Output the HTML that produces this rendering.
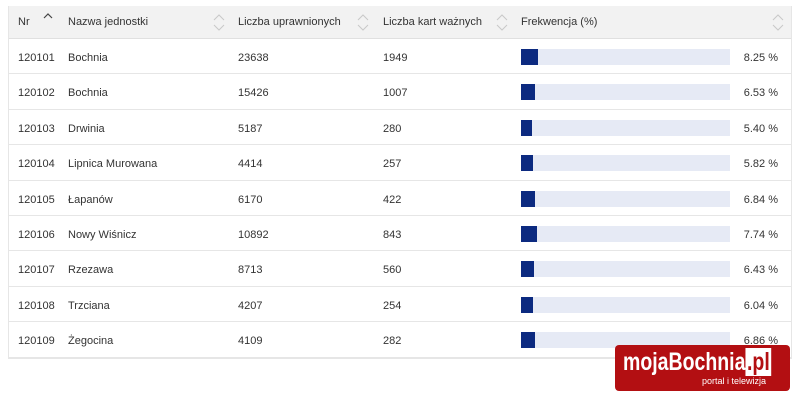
<!DOCTYPE html><html><head><style>
body{margin:0;width:800px;height:401px;background:#fff;font-family:"Liberation Sans",sans-serif;font-size:11px;color:#333;position:relative;overflow:hidden}
.t{position:absolute;left:8px;top:6px;width:782px;border:1px solid #e6e6e6;border-top:none}
.h{height:32px;background:#f2f2f2;position:relative;border-bottom:1px solid #e0e0e0}
.h .c{top:10px}
.r{height:35.4px;position:relative;border-bottom:1px solid #e6e6e6;box-sizing:border-box}
.c{position:absolute;top:13px;line-height:13px;white-space:nowrap}
.s{position:absolute;top:8px}
.bar{position:absolute;left:512px;top:10px;width:209px;height:16px;background:#e6eaf5}
.bar i{display:block;height:16px;background:#0c2a80}
.p{right:13px}
.logo{position:absolute;left:615px;top:345px;width:175px;height:46px;background:#b30f12;border-radius:4px;color:#fff;overflow:hidden}
</style></head><body>
<div class="t">
<div class="h">
<span class="c" style="left:9px">Nr</span>
<svg class="s" style="left:34px;top:7px" width="10" height="6"><polyline points="1,5 5,1 9,5" fill="none" stroke="#444" stroke-width="1.2"/></svg>
<span class="c" style="left:59px">Nazwa jednostki</span>
<svg class="s" style="left:204px" width="12" height="17"><polyline points="1,6 6,1 11,6" fill="none" stroke="#c8c8c8"/><polyline points="1,11 6,16 11,11" fill="none" stroke="#c8c8c8"/></svg>
<span class="c" style="left:229px">Liczba uprawnionych</span>
<svg class="s" style="left:348px" width="12" height="17"><polyline points="1,6 6,1 11,6" fill="none" stroke="#c8c8c8"/><polyline points="1,11 6,16 11,11" fill="none" stroke="#c8c8c8"/></svg>
<span class="c" style="left:374px">Liczba kart ważnych</span>
<svg class="s" style="left:487px" width="12" height="17"><polyline points="1,6 6,1 11,6" fill="none" stroke="#c8c8c8"/><polyline points="1,11 6,16 11,11" fill="none" stroke="#c8c8c8"/></svg>
<span class="c" style="left:512px">Frekwencja (%)</span>
<svg class="s" style="left:763px" width="12" height="17"><polyline points="1,6 6,1 11,6" fill="none" stroke="#c8c8c8"/><polyline points="1,11 6,16 11,11" fill="none" stroke="#c8c8c8"/></svg>
</div>
<div class="r"><span class="c" style="left:9px">120101</span><span class="c" style="left:59px">Bochnia</span><span class="c" style="left:229px">23638</span><span class="c" style="left:374px">1949</span><div class="bar"><i style="width:17px"></i></div><span class="c p">8.25 %</span></div>
<div class="r"><span class="c" style="left:9px">120102</span><span class="c" style="left:59px">Bochnia</span><span class="c" style="left:229px">15426</span><span class="c" style="left:374px">1007</span><div class="bar"><i style="width:14px"></i></div><span class="c p">6.53 %</span></div>
<div class="r"><span class="c" style="left:9px">120103</span><span class="c" style="left:59px">Drwinia</span><span class="c" style="left:229px">5187</span><span class="c" style="left:374px">280</span><div class="bar"><i style="width:11px"></i></div><span class="c p">5.40 %</span></div>
<div class="r"><span class="c" style="left:9px">120104</span><span class="c" style="left:59px">Lipnica Murowana</span><span class="c" style="left:229px">4414</span><span class="c" style="left:374px">257</span><div class="bar"><i style="width:12px"></i></div><span class="c p">5.82 %</span></div>
<div class="r"><span class="c" style="left:9px">120105</span><span class="c" style="left:59px">Łapanów</span><span class="c" style="left:229px">6170</span><span class="c" style="left:374px">422</span><div class="bar"><i style="width:14px"></i></div><span class="c p">6.84 %</span></div>
<div class="r"><span class="c" style="left:9px">120106</span><span class="c" style="left:59px">Nowy Wiśnicz</span><span class="c" style="left:229px">10892</span><span class="c" style="left:374px">843</span><div class="bar"><i style="width:16px"></i></div><span class="c p">7.74 %</span></div>
<div class="r"><span class="c" style="left:9px">120107</span><span class="c" style="left:59px">Rzezawa</span><span class="c" style="left:229px">8713</span><span class="c" style="left:374px">560</span><div class="bar"><i style="width:13px"></i></div><span class="c p">6.43 %</span></div>
<div class="r"><span class="c" style="left:9px">120108</span><span class="c" style="left:59px">Trzciana</span><span class="c" style="left:229px">4207</span><span class="c" style="left:374px">254</span><div class="bar"><i style="width:12px"></i></div><span class="c p">6.04 %</span></div>
<div class="r"><span class="c" style="left:9px">120109</span><span class="c" style="left:59px">Żegocina</span><span class="c" style="left:229px">4109</span><span class="c" style="left:374px">282</span><div class="bar"><i style="width:14px"></i></div><span class="c p">6.86 %</span></div>
</div>
<div class="logo"><div style="position:absolute;left:8px;top:3px;font-size:25px;font-weight:bold;white-space:nowrap;transform:scaleX(0.78);transform-origin:left">mojaBochnia<span style="background:#fff;color:#b30f12;padding:0 2px">.pl</span></div><div style="position:absolute;right:24px;top:31px;font-size:9px">portal i telewizja</div></div>
</body></html>
